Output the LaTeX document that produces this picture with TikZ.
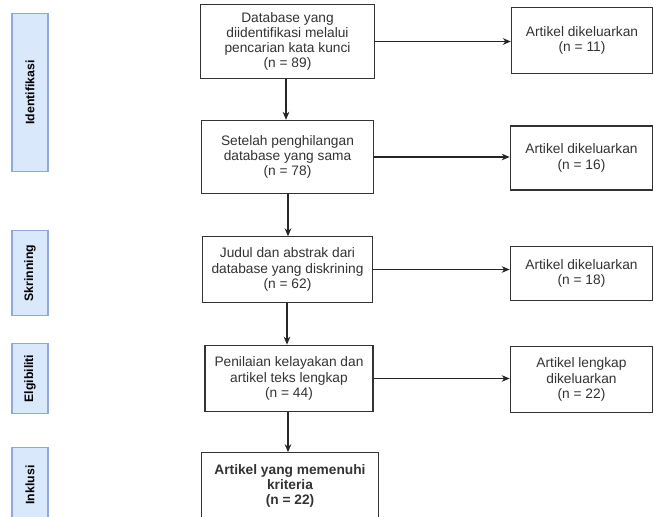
\documentclass[tikz,border=0pt]{standalone}
\usepackage{fontspec}
\setmainfont{Liberation Sans}
\usetikzlibrary{arrows.meta}

\definecolor{stagefill}{HTML}{DAE8FC}
\definecolor{stageline}{HTML}{8FAAD6}

\tikzset{
    flowbox/.style={draw=black!80, line width=0.8pt, fill=white, align=center,
        text=black!80, font=\fontsize{10.3}{11.4}\selectfont, inner sep=1pt},
    stagebox/.style={draw=stageline, line width=0.8pt, fill=stagefill,
        rotate=90, font=\fontsize{9.2}{10}\selectfont\bfseries, minimum height=27pt},
    flowarrow/.style={-{Stealth[length=6pt,width=5pt]}, line width=0.8pt, draw=black!85}
}

\begin{document}
\begin{tikzpicture}[x=0.75pt, y=-0.75pt]
    \useasboundingbox (0,0) rectangle (654,517);

    % Stages
    \node[stagebox, minimum width=119pt] (identifikasi) at (30,92.5) {Identifikasi};
    \node[stagebox, minimum width=64pt] (skrinning) at (30,273) {Skrinning};
    \node[stagebox, minimum width=53pt] (elgibiliti) at (30,378.5) {Elgibiliti};
    \node[stagebox, minimum width=56pt] (inklusi) at (30,485) {Inklusi};

    % Main flow
    \node[flowbox, minimum width=130pt, minimum height=56pt] (db) at (287.5,41.5)
        {Database yang\\diidentifikasi melalui\\pencarian kata kunci\\(n = 89)};
    \node[flowbox, minimum width=129pt, minimum height=55pt] (dedup) at (287.5,157)
        {Setelah penghilangan\\database yang sama\\(n = 78)};
    \node[flowbox, minimum width=128pt, minimum height=49pt] (screen) at (287.5,269.5)
        {Judul dan abstrak dari\\database yang diskrining\\(n = 62)};
    \node[flowbox, minimum width=126pt, minimum height=50pt] (elig) at (289,378.5)
        {Penilaian kelayakan dan\\artikel teks lengkap\\(n = 44)};
    \node[flowbox, minimum width=133pt, minimum height=50pt, font=\fontsize{10.3}{11.4}\selectfont\bfseries] (incl) at (290,486)
        {Artikel yang memenuhi\\kriteria\\(n = 22)};

    % Excluded
    \node[flowbox, minimum width=106pt, minimum height=49pt] (ex1) at (582,40.5)
        {Artikel dikeluarkan\\(n = 11)};
    \node[flowbox, minimum width=107pt, minimum height=48pt] (ex2) at (581.5,158)
        {Artikel dikeluarkan\\(n = 16)};
    \node[flowbox, minimum width=107pt, minimum height=40pt] (ex3) at (581.5,273.5)
        {Artikel dikeluarkan\\(n = 18)};
    \node[flowbox, minimum width=107pt, minimum height=49pt] (ex4) at (581.5,379.5)
        {Artikel lengkap\\dikeluarkan\\(n = 22)};

    % Arrows down
    \draw[flowarrow] (db.south -| 286,0) -- (dedup.north -| 286,0);
    \draw[flowarrow] (dedup.south -| 288,0) -- (screen.north -| 288,0);
    \draw[flowarrow] (screen.south -| 287,0) -- (elig.north -| 287,0);
    \draw[flowarrow] (elig.south -| 288,0) -- (incl.north -| 288,0);

    % Arrows right
    \draw[flowarrow] (db.east) -- (db.east -| ex1.west);
    \draw[flowarrow] (dedup.east) -- (dedup.east -| ex2.west);
    \draw[flowarrow] (screen.east) -- (screen.east -| ex3.west);
    \draw[flowarrow] (elig.east) -- (elig.east -| ex4.west);
\end{tikzpicture}
\end{document}
